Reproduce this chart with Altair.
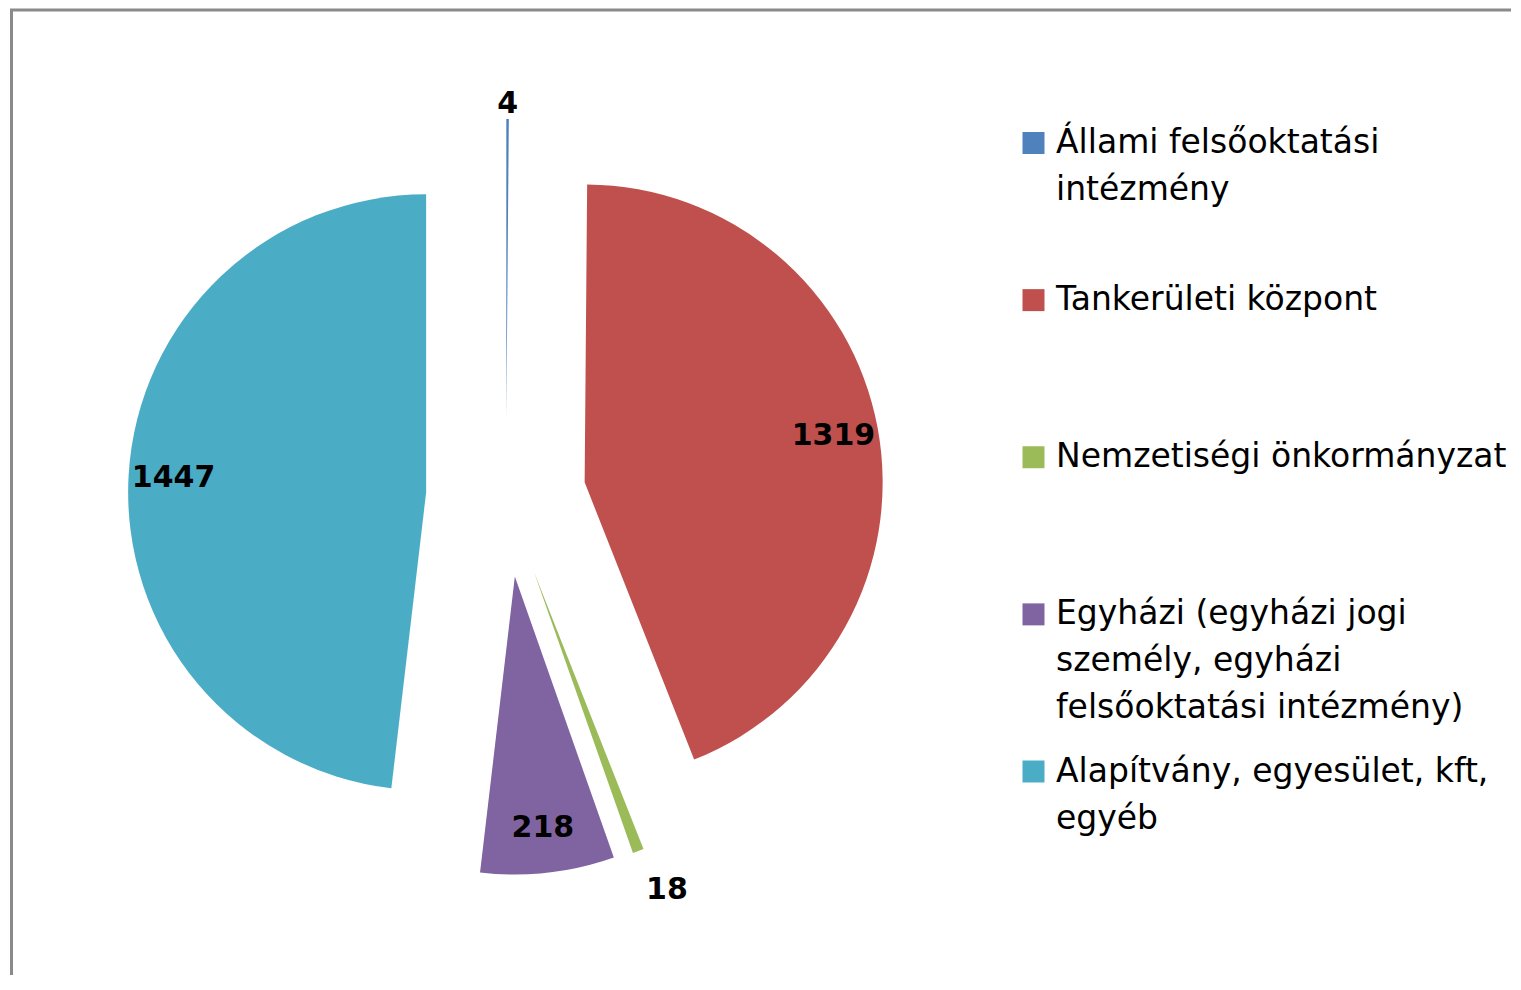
import altair as alt
import pandas as pd

categories = [
    "Állami felsőoktatási intézmény",
    "Tankerületi központ",
    "Nemzetiségi önkormányzat",
    "Egyházi (egyházi jogi személy, egyházi felsőoktatási intézmény)",
    "Alapítvány, egyesület, kft, egyéb",
]
values = [4, 1319, 18, 218, 1447]
legend_labels = [
    "Állami felsőoktatási|intézmény",
    "Tankerületi központ",
    "Nemzetiségi önkormányzat",
    "Egyházi (egyházi jogi|személy, egyházi|felsőoktatási intézmény)",
    "Alapítvány, egyesület, kft,|egyéb",
]
colors = ["#4F81BD", "#C0504D", "#9BBB59", "#8064A2", "#4BACC6"]

df = pd.DataFrame({
    "cat": categories,
    "value": values,
    "idx": list(range(len(values))),
    "legend": legend_labels,
})

FONT = "DejaVu Sans"
W, H = 1502, 965
CX, CY = 497, 487      # pie centre (view coords)
EXPLODE = 80           # explosion distance
R = 298                # pie radius

color = alt.Color("cat:N", scale=alt.Scale(domain=categories, range=colors), legend=None)

base = (
    alt.Chart(df)
    .transform_joinaggregate(total="sum(value)")
    .transform_window(cum="sum(value)", sort=[alt.SortField("idx")], frame=[None, 0])
    .transform_calculate(
        mid="(datum.cum - datum.value / 2) / datum.total * 2 * PI",
        inside="datum.value / datum.total > 0.02",
    )
    .transform_calculate(
        cx=f"{CX} + {EXPLODE} * sin(datum.mid)",
        cy=f"{CY} - {EXPLODE} * cos(datum.mid)",
        lr="datum.inside ? 253 : 313 + 75 * abs(sin(datum.mid))",
        lsx="datum.inside ? 1 : 1.12",
    )
    .transform_calculate(
        lx="datum.cx + datum.lr * datum.lsx * sin(datum.mid)",
        ly="datum.cy - datum.lr * cos(datum.mid)",
    )
)

arcs = base.mark_arc(radius=R).encode(
    theta=alt.Theta("value:Q", stack=True),
    order=alt.Order("idx:Q"),
    color=color,
    x=alt.X("cx:Q", scale=None),
    y=alt.Y("cy:Q", scale=None),
)

labels = base.mark_text(
    font=FONT, fontSize=30, fontWeight="bold", color="#000000"
).encode(
    x=alt.X("lx:Q", scale=None),
    y=alt.Y("ly:Q", scale=None),
    text=alt.Text("value:Q"),
)

leg_y = alt.Y(
    "idx:O",
    scale=alt.Scale(type="point", domain=list(range(len(values))), range=[133, 761.5], padding=0),
    axis=None,
)

squares = alt.Chart(df).mark_square(size=484, opacity=1).encode(
    x=alt.value(1024.5),
    y=leg_y,
    color=color,
)

leg_text = alt.Chart(df).mark_text(
    align="left", baseline="alphabetic", dy=10, font=FONT, fontSize=33,
    lineHeight=47, lineBreak="|", color="#000000",
).encode(
    x=alt.value(1047),
    y=leg_y,
    text="legend:N",
)

one = pd.DataFrame({"a": [0]})
left_border = alt.Chart(one).mark_rule(color="#8a8a8a", strokeWidth=3).encode(
    x=alt.value(2.5), y=alt.value(0), y2=alt.value(H)
)
top_border = alt.Chart(one).mark_rule(color="#8a8a8a", strokeWidth=3).encode(
    x=alt.value(1), x2=alt.value(W), y=alt.value(0)
)

chart = (
    alt.layer(arcs, labels, squares, leg_text, left_border, top_border)
    .properties(width=W, height=H, padding=0, background="white")
    .configure_view(stroke=None)
)

chart.save("out.html", embed_options={"renderer": "svg", "actions": False})
